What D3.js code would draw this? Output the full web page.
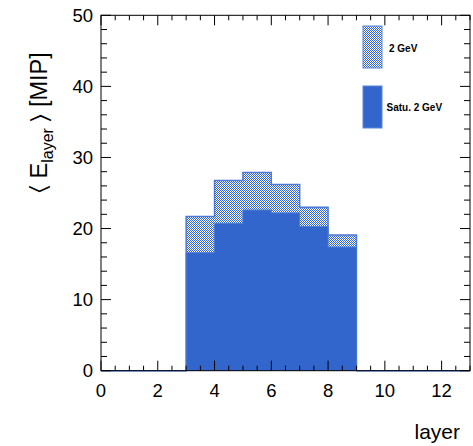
<!DOCTYPE html>
<html><head><meta charset="utf-8">
<script src="https://cdn.jsdelivr.net/npm/d3@7"></script>
<style>body{margin:0;background:#fff}svg{display:block}text{font-family:"Liberation Sans",Arial,sans-serif}</style>
</head><body>
<script>
const layers = [0,1,2,3,4,5,6,7,8,9,10,11,12];
const energy2GeV = [0,0,0,21.7,26.75,27.9,26.2,23.0,19.1,0,0,0,0];
const energySatu2GeV = [0,0,0,16.6,20.7,22.6,22.2,20.3,17.4,0,0,0,0];
const seriesNames = ["2 GeV","Satu. 2 GeV"];
const xTicks = [0,2,4,6,8,10,12];
const yTicks = [0,10,20,30,40,50];

const W=473,H=446;
const m={l:101,r:470,t:15.3,b:370.7};
const svg=d3.select("body").append("svg").attr("width",W).attr("height",H);
const x=d3.scaleLinear().domain([0,13]).range([m.l,m.r]);
const y=d3.scaleLinear().domain([0,50]).range([m.b,m.t]);
const blue="#3366cc";

const defs=svg.append("defs");
const pat=defs.append("pattern").attr("id","hatch").attr("patternUnits","userSpaceOnUse").attr("width",2).attr("height",2);
pat.append("rect").attr("width",2).attr("height",2).attr("fill","#ffffff");
pat.append("rect").attr("width",1).attr("height",1).attr("fill",blue);
pat.append("rect").attr("x",1).attr("y",1).attr("width",1).attr("height",1).attr("fill",blue);

function stepPath(vals){
  let p=`M${x(0)},${y(0)}`;
  vals.forEach((v,i)=>{p+=`L${x(layers[i])},${y(v)}L${x(layers[i]+1)},${y(v)}`;});
  p+=`L${x(13)},${y(0)}Z`;
  return p;
}
function linePath(vals){
  let p=`M${x(0)},${y(vals[0])}`;
  vals.forEach((v,i)=>{p+=`L${x(layers[i])},${y(v)}L${x(layers[i]+1)},${y(v)}`;});
  return p;
}
svg.append("path").attr("d",stepPath(energy2GeV)).attr("fill","url(#hatch)").attr("stroke","none");
svg.append("path").attr("d",linePath(energy2GeV)).attr("fill","none").attr("stroke","#4d7ad6").attr("stroke-width",1.5);
svg.append("path").attr("d",stepPath(energySatu2GeV)).attr("fill",blue).attr("stroke","none");
svg.append("path").attr("d",linePath(energySatu2GeV)).attr("fill","none").attr("stroke","#4d7ad6").attr("stroke-width",1);

// frame
svg.append("rect").attr("x",m.l).attr("y",m.t).attr("width",m.r-m.l).attr("height",m.b-m.t).attr("fill","none").attr("stroke","#000").attr("stroke-width",1);

const g=svg.append("g").attr("stroke","#000").attr("stroke-width",1);
d3.range(0,13.01,0.5).forEach(v=>{
  const major=Math.abs(v%2)<1e-6; const L=major?10:5;
  const xx=x(v);
  g.append("line").attr("x1",xx).attr("x2",xx).attr("y1",m.b).attr("y2",m.b-L);
  g.append("line").attr("x1",xx).attr("x2",xx).attr("y1",m.t).attr("y2",m.t+L);
});
d3.range(0,50.01,2).forEach(v=>{
  const major=Math.abs(v%10)<1e-6; const L=major?10:6;
  const yy=y(v);
  g.append("line").attr("x1",m.l).attr("x2",m.l+L).attr("y1",yy).attr("y2",yy);
  g.append("line").attr("x1",m.r).attr("x2",m.r-L).attr("y1",yy).attr("y2",yy);
});
svg.selectAll(".xt").data(xTicks).enter().append("text").attr("x",d=>x(d)).attr("y",397).attr("text-anchor","middle").attr("font-size",18.5).text(d=>d);
svg.selectAll(".yt").data(yTicks).enter().append("text").attr("x",93).attr("y",d=>y(d)+6.5).attr("text-anchor","end").attr("font-size",18.5).text(d=>d);

svg.append("text").attr("x",460).attr("y",439).attr("text-anchor","end").attr("font-size",21).text("layer");
const yt=svg.append("text").attr("transform","translate(47,193) rotate(-90)").attr("font-size",23.5);
yt.append("tspan").text("\u2329 E");
yt.append("tspan").attr("font-size",16).attr("dy",6).text("layer");
yt.append("tspan").attr("dy",-6).text(" \u232A [MIP]");

const lg=svg.append("g");
lg.append("rect").attr("x",363).attr("y",26).attr("width",19).attr("height",42).attr("fill","url(#hatch)").attr("stroke","#5a86dc").attr("stroke-width",1);
lg.append("text").attr("x",389).attr("y",51.5).attr("font-size",10).attr("font-weight","bold").text(seriesNames[0]);
lg.append("rect").attr("x",363).attr("y",86).attr("width",19).attr("height",42).attr("fill",blue).attr("stroke","#5a86dc").attr("stroke-width",1);
lg.append("text").attr("x",386.5).attr("y",110.5).attr("font-size",10).attr("font-weight","bold").text(seriesNames[1]);
</script>
</body></html>
